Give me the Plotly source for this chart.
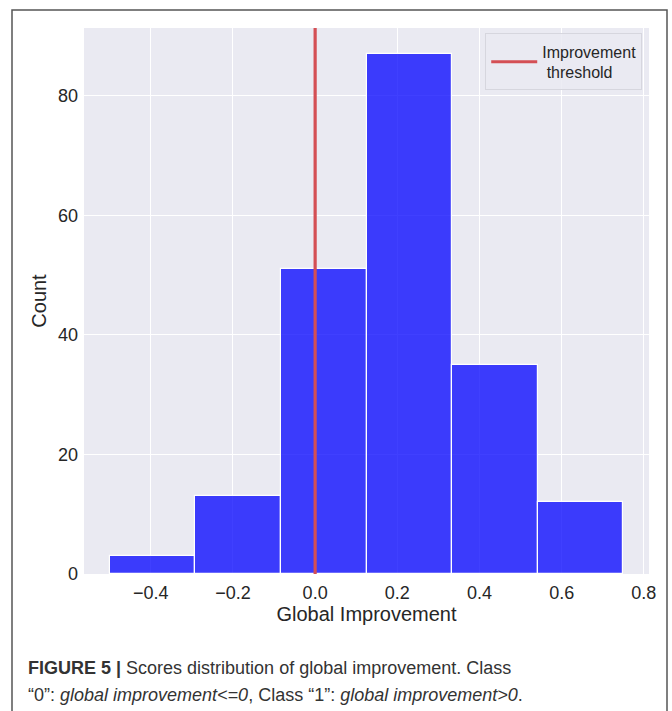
import plotly.graph_objects as go

# Data
bin_edges = [-0.5, -0.2917, -0.0833, 0.125, 0.3333, 0.5417, 0.75]
counts = [3, 13, 51, 87, 35, 12]
threshold = 0.0
x_ticks = [-0.4, -0.2, 0.0, 0.2, 0.4, 0.6, 0.8]
x_tick_labels = ["\u22120.4", "\u22120.2", "0.0", "0.2", "0.4", "0.6", "0.8"]
y_ticks = [0, 20, 40, 60, 80]

centers = [(a + b) / 2 for a, b in zip(bin_edges[:-1], bin_edges[1:])]
widths = [b - a for a, b in zip(bin_edges[:-1], bin_edges[1:])]

FONT = "Liberation Sans, Arial, Helvetica, sans-serif"

fig = go.Figure()
fig.add_trace(go.Bar(
    x=centers, y=counts, width=widths,
    marker=dict(color="rgba(0,0,255,0.75)", line=dict(color="white", width=1.2)),
    showlegend=False, hoverinfo="x+y",
))
fig.add_trace(go.Scatter(
    x=[threshold, threshold], y=[0, 200], mode="lines",
    line=dict(color="#d44f55", width=3.2),
    name="Improvement<br> threshold",
))

fig.update_layout(
    width=672, height=711,
    margin=dict(l=84, r=23, t=28, b=137),
    paper_bgcolor="white",
    plot_bgcolor="#EAEAF2",
    font=dict(family=FONT, color="#262626"),
    bargap=0,
    legend=dict(
        x=0.988, y=0.99, xanchor="right", yanchor="top",
        bgcolor="rgba(234,234,242,0.85)", bordercolor="#d6d6de", borderwidth=1,
        font=dict(size=16, color="#262626"),
        tracegroupgap=0, itemwidth=46,
    ),
    xaxis=dict(
        range=[-0.5625, 0.8125], tickvals=x_ticks, ticktext=x_tick_labels,
        showgrid=True, gridcolor="white", gridwidth=1.2, zeroline=False,
        tickfont=dict(size=18), ticks="", showline=False, ticklabelstandoff=6,
        title=dict(text="Global Improvement", font=dict(size=20), standoff=2),
    ),
    yaxis=dict(
        range=[0, 91.35], tickvals=y_ticks,
        showgrid=True, gridcolor="white", gridwidth=1.2, zeroline=False,
        tickfont=dict(size=18), ticks="", showline=False, ticklabelstandoff=5,
        title=dict(text="Count", font=dict(size=20), standoff=5),
    ),
    shapes=[dict(
        type="rect", xref="paper", yref="paper",
        x0=(12 - 84) / 565, x1=(667 - 84) / 565,
        y0=(574 - 720) / 546, y1=(574 - 10) / 546,
        line=dict(color="#555555", width=1.5), fillcolor="rgba(0,0,0,0)", layer="below",
    )],
    annotations=[
        dict(
            xref="paper", yref="paper", x=(26 - 84) / 565, y=(574 - 668) / 546,
            xanchor="left", yanchor="middle", showarrow=False, align="left",
            text="<b>FIGURE 5 |</b> Scores distribution of global improvement. Class",
            font=dict(size=18, color="#333333"),
        ),
        dict(
            xref="paper", yref="paper", x=(26 - 84) / 565, y=(574 - 695) / 546,
            xanchor="left", yanchor="middle", showarrow=False, align="left",
            text="\u201c0\u201d: <i>global improvement&lt;=0</i>, Class \u201c1\u201d: <i>global improvement&gt;0</i>.",
            font=dict(size=18, color="#333333"),
        ),
    ],
)

fig.write_html(
    "out.html",
    config={"displayModeBar": False},
    post_script="document.body.style.margin='0px';document.body.style.overflow='hidden';",
)
